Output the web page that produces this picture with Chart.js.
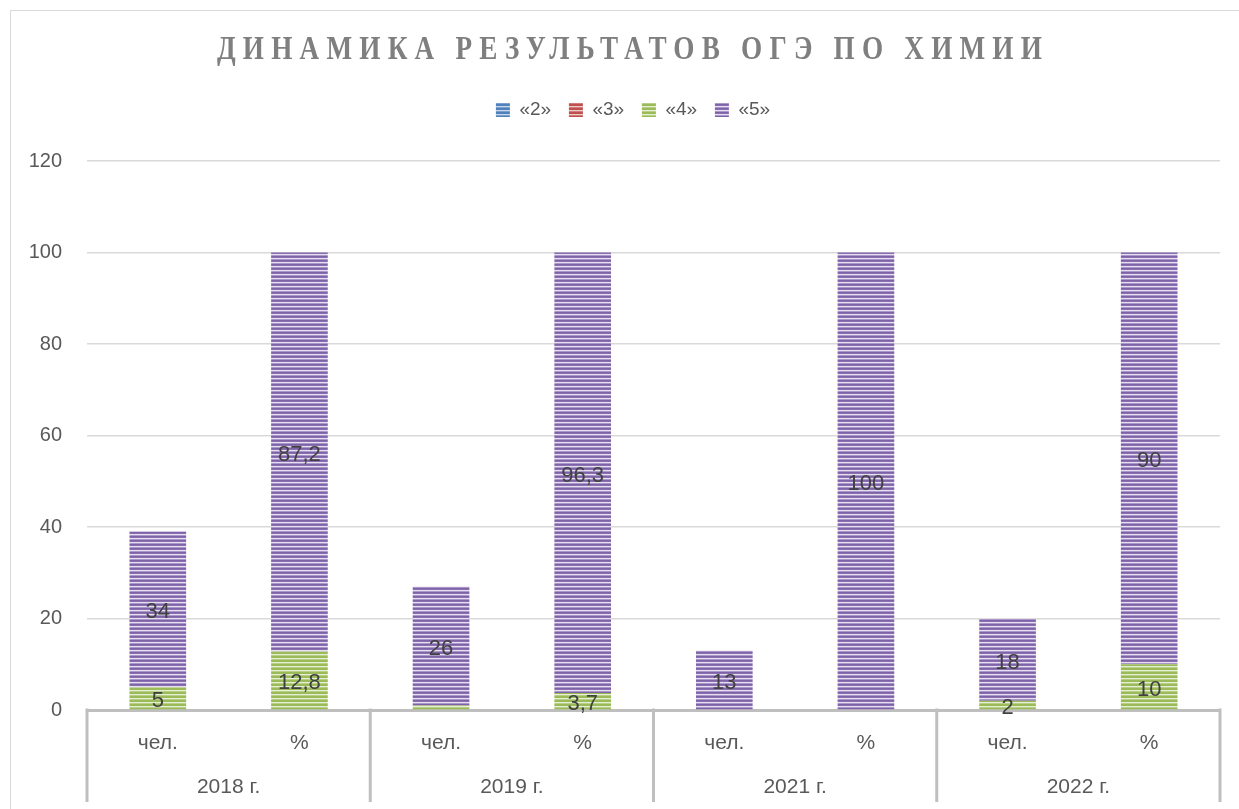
<!DOCTYPE html>
<html><head><meta charset="utf-8">
<script src="https://cdn.jsdelivr.net/npm/chart.js@4.4.1/dist/chart.umd.min.js"></script>
<style>
html,body{margin:0;padding:0;background:#fff;overflow:hidden}
#wrap{position:relative;width:1239px;height:809px;overflow:hidden}
#frame{position:absolute;left:10px;top:10px;width:1300px;height:900px;border-left:1.5px solid #D9D9D9;border-top:1.5px solid #D9D9D9}
canvas{position:absolute;left:0;top:0}
</style></head><body>
<div id="wrap"><div id="frame"></div><canvas id="c" width="1239" height="809"></canvas></div>
<script>
const titleText = 'ДИНАМИКА РЕЗУЛЬТАТОВ ОГЭ ПО ХИМИИ';
const subCategories = ['чел.', '%', 'чел.', '%', 'чел.', '%', 'чел.', '%'];
const years = ['2018 г.', '2019 г.', '2021 г.', '2022 г.'];
const seriesNames = ['«2»', '«3»', '«4»', '«5»'];
const grade2 = [0, 0, 0, 0, 0, 0, 0, 0];
const grade3 = [0, 0, 0, 0, 0, 0, 0, 0];
const grade4 = [5, 12.8, 1, 3.7, 0, 0, 2, 10];
const grade5 = [34, 87.2, 26, 96.3, 13, 100, 18, 90];
const showLabel4 = [true, true, false, true, false, false, true, true];
const showLabel5 = [true, true, true, true, true, true, true, true];
const yMin = 0, yMax = 120, yStep = 20;

const FONT = '"Liberation Sans", Arial, sans-serif';

function stripe(colors) {
  const c = document.createElement('canvas');
  c.width = 4; c.height = colors.length;
  const x = c.getContext('2d');
  colors.forEach((col, i) => { x.fillStyle = col; x.fillRect(0, i, 4, 1); });
  return x.createPattern(c, 'repeat');
}
const pBlue = stripe(['#4F81BD', '#4F81BD', '#C9D7EA', '#7D9FCC']);
const pRed = stripe(['#C0504D', '#C0504D', '#EDCBCA', '#D07C7A']);
const pGreen = stripe(['#9BBB59', '#9BBB59', '#E6EFD5', '#B7CF87']);
const pPurple = stripe(['#7E62A8', '#8A70B0', '#E6DFEF', '#AB98CA']);

const titleWrap = {
  id: 'titleWrap',
  beforeDraw(chart) {
    const tb = chart.titleBlock;
    if (tb && !tb._wrapped) {
      const orig = tb.draw.bind(tb);
      tb.draw = function () {
        const ctx = chart.ctx;
        const cx = (tb.left + tb.right) / 2;
        ctx.save();
        ctx.translate(cx, 0); ctx.scale(0.8, 1); ctx.translate(-cx, 0);
        ctx.letterSpacing = '9px';
        orig();
        ctx.restore();
      };
      tb._wrapped = true;
    }
  }
};

const extras = {
  id: 'extras',
  afterDraw(chart) {
    const ctx = chart.ctx;
    const xs = chart.scales.x, x2 = chart.scales.x2;
    const area = chart.chartArea;
    ctx.save();
    ctx.strokeStyle = '#BFBFBF';
    ctx.lineWidth = 3;
    const n = years.length;
    for (let g = 0; g <= n; g++) {
      let px;
      if (g === 0) px = xs.left;
      else if (g === n) px = xs.right;
      else px = (xs.getPixelForValue(2 * g - 1) + xs.getPixelForValue(2 * g)) / 2;
      ctx.beginPath();
      ctx.moveTo(px, area.bottom - 1.5);
      ctx.lineTo(px, x2.bottom);
      ctx.stroke();
    }
    ctx.fillStyle = '#404040';
    ctx.font = '22px ' + FONT;
    ctx.textAlign = 'center';
    ctx.textBaseline = 'middle';
    const shows = [null, null, showLabel4, showLabel5];
    chart.data.datasets.forEach((ds, i) => {
      if (!shows[i]) return;
      const meta = chart.getDatasetMeta(i);
      meta.data.forEach((el, j) => {
        const v = ds.data[j];
        if (!v || !shows[i][j]) return;
        const t = String(v).replace('.', ',');
        ctx.fillText(t, el.x, (el.y + el.base) / 2 + 3);
      });
    });
    ctx.restore();
  }
};

new Chart(document.getElementById('c'), {
  type: 'bar',
  data: {
    labels: subCategories,
    datasets: [
      { label: seriesNames[0], data: grade2, backgroundColor: pBlue },
      { label: seriesNames[1], data: grade3, backgroundColor: pRed },
      { label: seriesNames[2], data: grade4, backgroundColor: pGreen },
      { label: seriesNames[3], data: grade5, backgroundColor: pPurple }
    ]
  },
  options: {
    responsive: false,
    animation: false,
    devicePixelRatio: 1,
    datasets: { bar: { categoryPercentage: 1, barPercentage: 0.4, borderWidth: 0 } },
    layout: { padding: { left: 46, right: 19, top: 10, bottom: 7 } },
    plugins: {
      title: {
        display: true, text: titleText, color: '#7F7F7F',
        font: { family: '"Liberation Serif", "Times New Roman", serif', size: 34, weight: 'bold', lineHeight: 1.2 },
        padding: { top: 19.6, bottom: 12.3 }
      },
      subtitle: {
        display: true, text: '', weight: 500,
        font: { size: 10, lineHeight: 1.2 },
        padding: { top: 10, bottom: 9.5 }
      },
      legend: {
        display: true, position: 'top',
        labels: { boxWidth: 14, boxHeight: 14, padding: 17.8, color: '#595959', font: { family: FONT, size: 19 } }
      },
      tooltip: { enabled: false }
    },
    scales: {
      x: {
        stacked: true, offset: true, weight: 1,
        grid: { display: false, drawTicks: false },
        border: { display: true, color: '#BFBFBF', width: 3 },
        ticks: { color: '#595959', font: { family: FONT, size: 21 }, padding: 21, maxRotation: 0, autoSkip: false },
        afterFit(s) { s.height = 55; }
      },
      x2: {
        type: 'category', labels: years, position: 'bottom', offset: true, weight: 2,
        grid: { display: false, drawTicks: false },
        border: { display: false },
        ticks: { color: '#595959', font: { family: FONT, size: 21 }, padding: 10, maxRotation: 0, autoSkip: false },
        afterFit(s) { s.height = 37; }
      },
      y: {
        stacked: true, min: yMin, max: yMax,
        grid: { color: '#D9D9D9', lineWidth: 1.5, drawTicks: false },
        border: { display: false },
        ticks: { stepSize: yStep, color: '#595959', font: { family: FONT, size: 20 }, padding: 25 },
        afterFit(s) { s.width = 41; s._computeLabelArea = () => null; }
      }
    }
  },
  plugins: [titleWrap, extras]
});
</script>
</body></html>
